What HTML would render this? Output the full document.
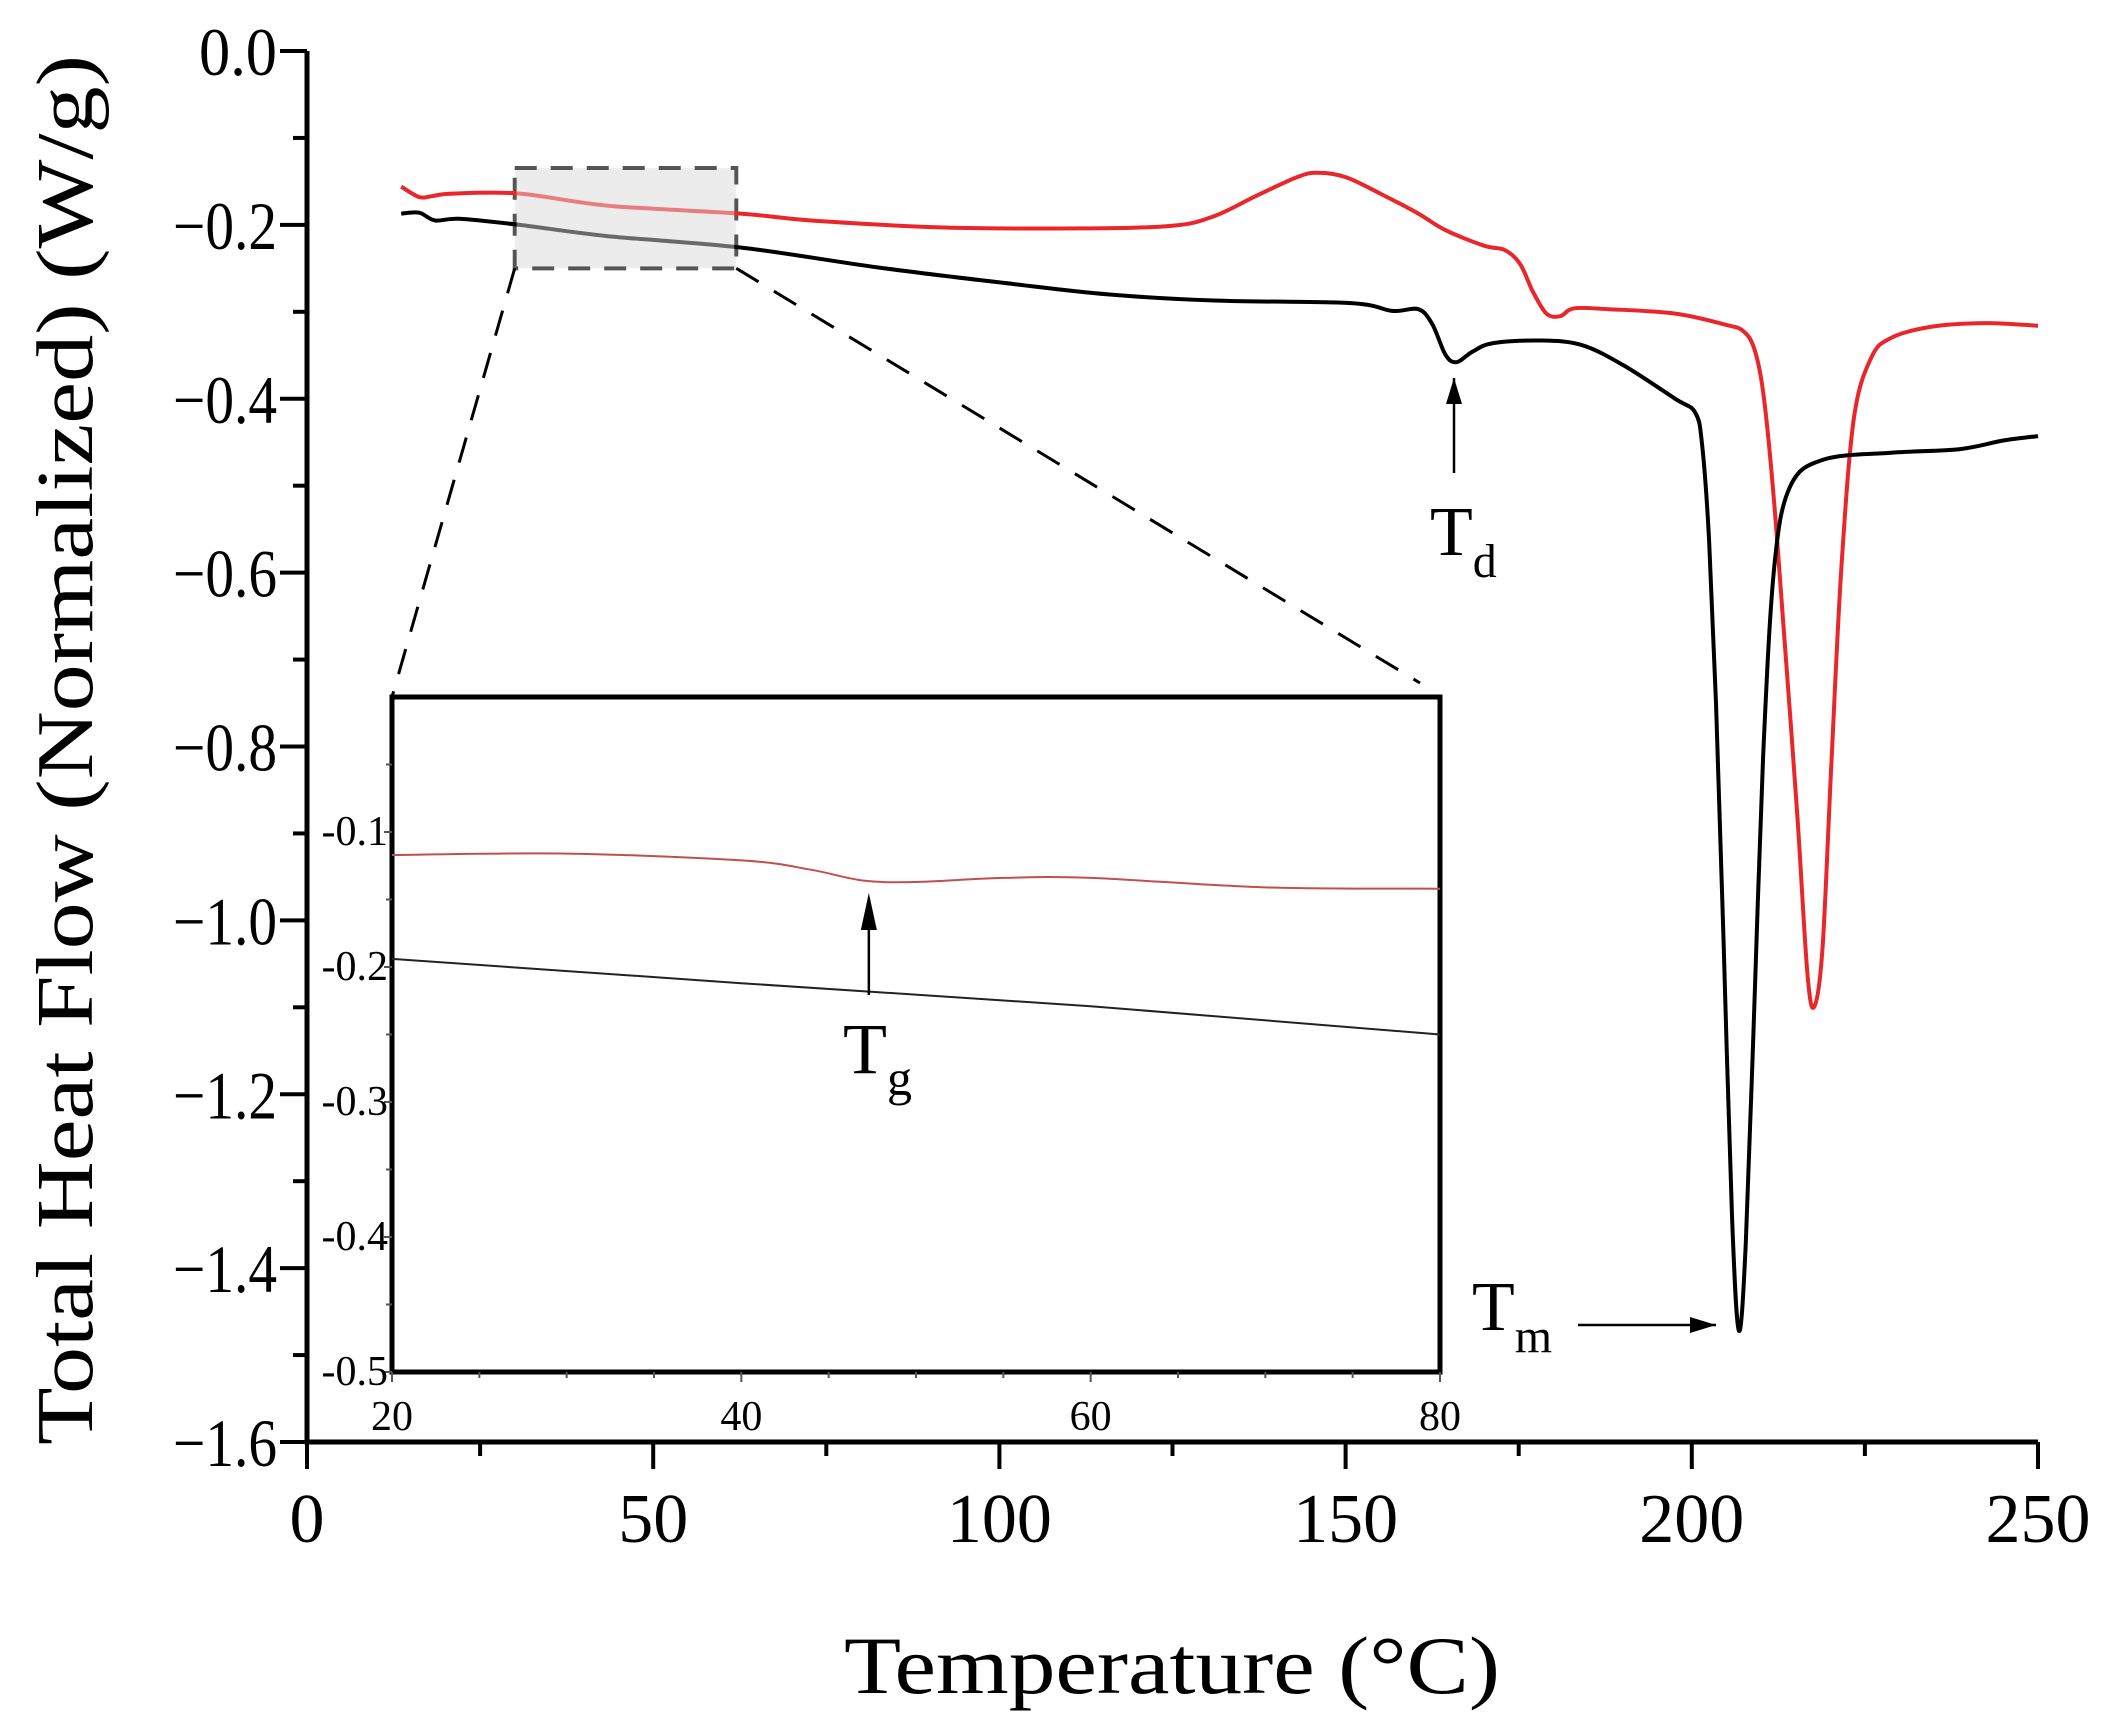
<!DOCTYPE html>
<html><head><meta charset="utf-8">
<style>
html,body{margin:0;padding:0;background:#fff;}
svg{display:block;font-family:"Liberation Serif",serif;}
</style></head>
<body>
<svg id="chart" width="2117" height="1735" viewBox="0 0 2117 1735" xmlns="http://www.w3.org/2000/svg">
<g id="main"></g>
<g id="inset"></g>
</svg>
<script>
// ---- main chart data ----
const redT = [13.6,16.2,18,21,30.7,43.5,62.6,72.8,92,112,125,131,137,143,146,150,155,160.5,164.4,170,173,175.2,177,179,181,183,188,197.6,205,207.4,209,210.3,211.7,213.2,215.2,216.7,217.7,218.9,220.2,221.6,223.4,225.9,228.8,234.7,242.5,250];
const redV = [-0.156,-0.168,-0.167,-0.164,-0.164,-0.178,-0.187,-0.195,-0.203,-0.204,-0.201,-0.19,-0.167,-0.145,-0.14,-0.145,-0.164,-0.187,-0.206,-0.224,-0.229,-0.245,-0.276,-0.302,-0.305,-0.296,-0.297,-0.302,-0.315,-0.322,-0.342,-0.392,-0.501,-0.657,-0.874,-1.061,-1.099,-1.029,-0.812,-0.594,-0.423,-0.353,-0.33,-0.317,-0.313,-0.316];
const blackT = [13.6,16.2,18.5,22,30.7,43.5,62.6,82.5,102,115.7,131,150.8,156.7,160.5,162.5,164.4,166,168.3,171.3,178,184,190,197.6,200.5,201.5,202.5,203.5,204.6,205.8,206.8,207.8,209,210.3,211.9,214.2,219,228.8,238.6,245,250];
const blackV = [-0.187,-0.186,-0.195,-0.193,-0.2,-0.213,-0.226,-0.249,-0.268,-0.28,-0.287,-0.29,-0.299,-0.297,-0.314,-0.349,-0.358,-0.346,-0.336,-0.333,-0.338,-0.361,-0.4,-0.416,-0.454,-0.563,-0.75,-1.029,-1.34,-1.472,-1.371,-1.107,-0.812,-0.594,-0.501,-0.47,-0.462,-0.458,-0.448,-0.443];
const xTicks = [0,50,100,150,200,250];
const yTicks = [0,-0.2,-0.4,-0.6,-0.8,-1.0,-1.2,-1.4,-1.6];
const yTickLabels = ["0.0","\u22120.2","\u22120.4","\u22120.6","\u22120.8","\u22121.0","\u22121.2","\u22121.4","\u22121.6"];
// ---- inset data ----
const insRedT = [20,30,40,44,47,50,55,60,70,80];
const insRedV = [-0.117,-0.116,-0.121,-0.128,-0.136,-0.137,-0.134,-0.134,-0.141,-0.142];
const insBlackT = [20,40,60,80];
const insBlackV = [-0.194,-0.212,-0.229,-0.25];
const insXTicks = [20,40,60,80];
const insYTicks = [-0.1,-0.2,-0.3,-0.4,-0.5];
const insYTickLabels = ["-0.1","-0.2","-0.3","-0.4","-0.5"];

const NS = "http://www.w3.org/2000/svg";
function mk(parent, tag, attrs, text){
  const e = document.createElementNS(NS, tag);
  for (const k in attrs) e.setAttribute(k, attrs[k]);
  if (text !== undefined) e.textContent = text;
  parent.appendChild(e);
  return e;
}
const X0=307, X1=2038, Y0=51, Y1=1442;
const sx = t => X0 + (t-0)/(250-0)*(X1-X0);
const sy = v => Y0 + (0-v)/(1.6)*(Y1-Y0);
const main = document.getElementById('main');

let zb = mk(main,'rect',{x:sx(30),y:sy(-0.13)+4,width:sx(62)-sx(30),height:sy(-0.25)-sy(-0.13)-4,fill:'#efefef',stroke:'#555','stroke-width':4,'stroke-dasharray':'22 14'});


let zl1 = mk(main,'line',{x1:sx(30),y1:sy(-0.25),x2:392,y2:697,stroke:'#000','stroke-width':3,'stroke-dasharray':'26 18'});


let zl2 = mk(main,'line',{x1:sx(62),y1:sy(-0.25),x2:1420,y2:683,stroke:'#000','stroke-width':3,'stroke-dasharray':'26 18'});



function path(T,V,fx,fy){return T.map((t,i)=>(i?'L':'M')+fx(t).toFixed(1)+' '+fy(V[i]).toFixed(1)).join(' ');}
function smooth(T,V,fx,fy){
  const P=T.map((t,i)=>[fx(t),fy(V[i])]);
  let d='M'+P[0][0].toFixed(1)+' '+P[0][1].toFixed(1);
  for(let i=0;i<P.length-1;i++){
    const p0=P[Math.max(0,i-1)],p1=P[i],p2=P[i+1],p3=P[Math.min(P.length-1,i+2)];
    const c1=[p1[0]+(p2[0]-p0[0])/6,p1[1]+(p2[1]-p0[1])/6];
    const c2=[p2[0]-(p3[0]-p1[0])/6,p2[1]-(p3[1]-p1[1])/6];
    d+=` C${c1[0].toFixed(1)} ${c1[1].toFixed(1)} ${c2[0].toFixed(1)} ${c2[1].toFixed(1)} ${p2[0].toFixed(1)} ${p2[1].toFixed(1)}`;
  }
  return d;
}
let rp = mk(main,'path',{d:smooth(redT,redV,sx,sy),fill:'none',stroke:'#e8262b','stroke-width':4,'stroke-linejoin':'round'});


let bp = mk(main,'path',{d:smooth(blackT,blackV,sx,sy),fill:'none',stroke:'#000','stroke-width':4,'stroke-linejoin':'round'});


let zo = mk(main,'rect',{x:sx(30)+2,y:sy(-0.13)+6,width:sx(62)-sx(30)-4,height:sy(-0.25)-sy(-0.13)-8,fill:'#e8e8e8','fill-opacity':0.45});



let ax = mk(main,'path',{d:`M${X0} ${Y0} L${X0} ${Y1} L${X1} ${Y1}`,fill:'none',stroke:'#000','stroke-width':5});


for (let i=0;i<xTicks.length;i++){
  const x=sx(xTicks[i]);
  let t=mk(main,'line',{x1:x,y1:Y1,x2:x,y2:Y1+27,stroke:'#000','stroke-width':4});
  
  
  if(i<xTicks.length-1){
    let m=mk(main,'line',{x1:sx(xTicks[i]+25),y1:Y1,x2:sx(xTicks[i]+25),y2:Y1+14,stroke:'#000','stroke-width':4});
    
    
  }
  let l=mk(main,'text',{x:x,y:Y1+100,'font-size':70,'text-anchor':'middle'},String(xTicks[i]));
  
  
}
for (let i=0;i<yTicks.length;i++){
  const y=sy(yTicks[i]);
  let t=mk(main,'line',{x1:X0,y1:y,x2:X0-27,y2:y,stroke:'#000','stroke-width':4});
  
  
  if(i<yTicks.length-1){
    let m=mk(main,'line',{x1:X0,y1:sy(yTicks[i]-0.1),x2:X0-14,y2:sy(yTicks[i]-0.1),stroke:'#000','stroke-width':4});
    
    
  }
  const txt=yTickLabels[i];
  let l=mk(main,'text',{x:277,y:y+24,'font-size':68,'text-anchor':'end',textLength:txt.length>3?104:78,lengthAdjust:'spacingAndGlyphs'},txt);
  
  
}
let yt = mk(main,'text',{x:0,y:0,'font-size':80,'text-anchor':'middle',transform:'translate(92,750) rotate(-90)',textLength:1390,lengthAdjust:'spacingAndGlyphs'},'Total Heat Flow (Normalized) (W/g)');


let xt = mk(main,'text',{x:1172,y:1693,'font-size':82,'text-anchor':'middle',textLength:656,lengthAdjust:'spacingAndGlyphs'},'Temperature (°C)');



function arrow(name,x1,y1,x2,y2){
  let g=mk(main,'g',{});
  
  
  mk(g,'line',{x1:x1,y1:y1,x2:x2,y2:y2,stroke:'#000','stroke-width':2.5});
  const a=Math.atan2(y2-y1,x2-x1), L=26, W=8;
  const bx=x2-L*Math.cos(a), by=y2-L*Math.sin(a);
  mk(g,'polygon',{points:`${x2},${y2} ${bx-W*Math.sin(a)},${by+W*Math.cos(a)} ${bx+W*Math.sin(a)},${by-W*Math.cos(a)}`,fill:'#000'});
}
arrow('td-arrow',1454,473,1454,378);
let td=mk(main,'text',{x:1430,y:555,'font-size':70},'T');


mk(td,'tspan',{'font-size':48,dy:22},'d');
arrow('tm-arrow',1578,1325,1716,1325);
let tm=mk(main,'text',{x:1472,y:1330,'font-size':70},'T');


mk(tm,'tspan',{'font-size':48,dy:22},'m');

const inset=document.getElementById('inset');
const IX0=392, IX1=1440, IY0=697, IY1=1372;
const ix = t => IX0 + (t-20)/60*(IX1-IX0);
const iy = v => IY0 + (0-v)/0.5*(IY1-IY0);
let ibg=mk(inset,'rect',{x:IX0,y:IY0,width:IX1-IX0,height:IY1-IY0,fill:'#fff',stroke:'#000','stroke-width':5});


let irp=mk(inset,'path',{d:smooth(insRedT,insRedV,ix,iy),fill:'none',stroke:'#c0504d','stroke-width':2});


let ibp=mk(inset,'path',{d:path(insBlackT,insBlackV,ix,iy),fill:'none',stroke:'#222','stroke-width':2});


for(let t=20;t<=80;t+=5){
  let m=mk(inset,'line',{x1:ix(t),y1:IY1,x2:ix(t),y2:IY1+(t%20===0?10:6),stroke:'#555','stroke-width':2});
  
  
}
for(let i=0;i<insXTicks.length;i++){
  let l=mk(inset,'text',{x:ix(insXTicks[i]),y:1430,'font-size':42,'text-anchor':'middle'},String(insXTicks[i]));
  
  
}
for(let i=0;i<insYTicks.length;i++){
  const y=iy(insYTicks[i]);
  let t=mk(inset,'line',{x1:IX0,y1:y,x2:IX0-8,y2:y,stroke:'#555','stroke-width':2});
  
  
  let m=mk(inset,'line',{x1:IX0,y1:iy(insYTicks[i]+0.05),x2:IX0-6,y2:iy(insYTicks[i]+0.05),stroke:'#555','stroke-width':2});
  
  
  let l=mk(inset,'text',{x:IX0-4,y:y+13,'font-size':42,'text-anchor':'end'},insYTickLabels[i]);
  
  
}
let ia=document.createElementNS(NS,'g');
inset.appendChild(ia);


mk(ia,'line',{x1:ix(47.3),y1:995,x2:ix(47.3),y2:900,stroke:'#000','stroke-width':2.5});
mk(ia,'polygon',{points:`${ix(47.3)},893 ${ix(47.3)-8},930 ${ix(47.3)+8},930`,fill:'#000'});
let tg=mk(inset,'text',{x:843,y:1073,'font-size':72},'T');


mk(tg,'tspan',{'font-size':50,dy:22},'g');
</script>
</body></html>
